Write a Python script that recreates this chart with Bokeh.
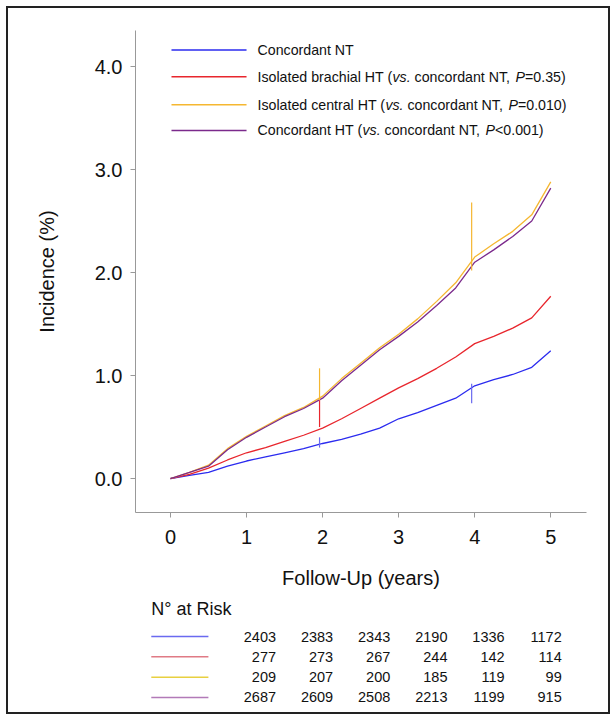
from bokeh.plotting import figure
from bokeh.layouts import column
from bokeh.models import Range1d, FixedTicker, CustomJSTickFormatter, Label
from bokeh.core.properties import value
from bokeh.embed import file_html
from bokeh.resources import INLINE

FONT = "Liberation Sans"

# данные
times = [i * 0.25 for i in range(21)]
inc_nt = [0, 0.03, 0.06, 0.12, 0.17, 0.21, 0.25, 0.29, 0.34, 0.38, 0.43, 0.49, 0.58, 0.64, 0.71, 0.78, 0.9, 0.96, 1.01, 1.08, 1.24]
inc_brach = [0, 0.04, 0.1, 0.18, 0.25, 0.3, 0.36, 0.42, 0.49, 0.58, 0.68, 0.78, 0.88, 0.97, 1.07, 1.18, 1.31, 1.38, 1.46, 1.56, 1.77]
inc_central = [0, 0.06, 0.13, 0.29, 0.41, 0.51, 0.61, 0.69, 0.8, 0.97, 1.12, 1.27, 1.4, 1.55, 1.72, 1.9, 2.15, 2.28, 2.4, 2.56, 2.88]
inc_conc = [0, 0.06, 0.12, 0.28, 0.4, 0.5, 0.6, 0.68, 0.78, 0.95, 1.1, 1.25, 1.38, 1.52, 1.68, 1.85, 2.1, 2.22, 2.35, 2.5, 2.82]

# вертикальные выбросы на кривых (x, от, до)
spike_x = [1.96, 1.96, 1.96, 3.96, 3.96, 3.96]
spike_y0 = [0.76, 0.76, 0.3, 2.02, 1.3, 0.73]
spike_y1 = [1.07, 0.5, 0.4, 2.68, 1.3, 0.92]
spike_col = ["orange", "red", "blue", "orange", "red", "blue"]

colors = ["#2b2bef", "#e8262d", "#f5b731", "#7b2a8c"]
table_colors = ["#6a6af0", "#e07a85", "#e8d040", "#b27ab8"]
spike_map = {"orange": "#f5b731", "red": "#e8262d", "blue": "#6a6af0"}

legend_parts = [
    [("Concordant NT", "normal")],
    [("Isolated brachial HT (", "normal"), ("vs.", "italic"), (" concordant NT, ", "normal"), ("P", "italic"), ("=0.35)", "normal")],
    [("Isolated central HT (", "normal"), ("vs.", "italic"), (" concordant NT, ", "normal"), ("P", "italic"), ("=0.010)", "normal")],
    [("Concordant HT (", "normal"), ("vs.", "italic"), (" concordant NT, ", "normal"), ("P", "italic"), ("<0.001)", "normal")],
]

risk_years = [0, 1, 2, 3, 4, 5]
at_risk = [
    [2403, 2383, 2343, 2190, 1336, 1172],
    [277, 273, 267, 244, 142, 114],
    [209, 207, 200, 185, 119, 99],
    [2687, 2609, 2508, 2213, 1199, 915],
]

# ширины символов Arial (на 1000 em)
W = {" ": 278, "I": 278, "s": 500, "o": 556, "l": 222, "a": 556, "t": 278, "e": 556, "d": 556,
     "b": 556, "r": 333, "c": 500, "h": 556, "i": 222, "H": 722, "T": 611, "(": 333, ")": 333,
     "v": 500, ".": 278, "n": 556, "N": 722, ",": 278, "P": 667, "=": 584, "<": 584, "C": 722}


def text_w(s, size):
    return sum(W.get(ch, 556) for ch in s) / 1000 * size


PX = 76.0   # пикселей на год
ZERO = 162  # x нуля на холсте
LEG = 14.2

p = figure(width=600, height=587, output_backend="svg", toolbar_location=None, tools="",
           x_range=Range1d(-0.46, 5.47), y_range=Range1d(-0.33, 4.35),
           min_border_left=127, min_border_right=22, min_border_top=22, min_border_bottom=83)
p.outline_line_color = None
p.grid.grid_line_color = None

for ys, c in zip([inc_nt, inc_brach, inc_central, inc_conc], colors):
    p.line(times, ys, line_color=c, line_width=1.3)
p.segment(x0=spike_x, y0=spike_y0, x1=spike_x, y1=spike_y1,
          line_color=[spike_map[c] for c in spike_col], line_width=1.2)

p.xaxis.ticker = FixedTicker(ticks=[0, 1, 2, 3, 4, 5])
p.yaxis.ticker = FixedTicker(ticks=[0, 1, 2, 3, 4])
p.yaxis.formatter = CustomJSTickFormatter(code="return tick.toFixed(1);")
p.xaxis.axis_label = "Follow-Up (years)"
p.yaxis.axis_label = "Incidence (%)"
for ax in [p.xaxis[0], p.yaxis[0]]:
    ax.axis_line_color = "#999999"
    ax.major_tick_line_color = "#999999"
    ax.major_tick_out = 5
    ax.major_tick_in = 0
    ax.minor_tick_line_color = None
    ax.major_label_text_font = FONT
    ax.major_label_text_font_size = "20px"
    ax.major_label_text_color = "#111111"
    ax.axis_label_text_font = FONT
    ax.axis_label_text_font_size = "20px"
    ax.axis_label_text_font_style = "normal"
    ax.axis_label_text_color = "#111111"
p.xaxis.major_label_standoff = 12
p.xaxis.axis_label_standoff = 20
p.yaxis.major_label_standoff = 8
p.yaxis.axis_label_standoff = 34

# легенда вручную (курсив для vs. и P)
leg_y = [4.16, 3.9, 3.63, 3.38]
for i, parts in enumerate(legend_parts):
    p.segment(x0=[(172 - 171) / PX], y0=[leg_y[i]], x1=[(247 - 171) / PX], y1=[leg_y[i]],
              line_color=colors[i], line_width=1.5)
    off = 0
    for txt, style in parts:
        lead = text_w(txt[:len(txt) - len(txt.lstrip())], LEG)
        p.add_layout(Label(x=(258 - 171) / PX, y=leg_y[i], text=txt.strip(), x_offset=off + lead,
                           text_font=FONT, text_font_size=f"{LEG}px", text_font_style=style,
                           text_baseline="middle", text_color="#111111"))
        off += text_w(txt, LEG)

# таблица числа под риском
t = figure(width=600, height=117, output_backend="svg", toolbar_location=None, tools="",
           x_range=Range1d(-ZERO / PX, (600 - ZERO) / PX), y_range=Range1d(3.74, -2.02),
           x_axis_location=None, y_axis_location=None, min_border=0)
t.grid.grid_line_color = None
t.outline_line_color = None
t.text(x=[(30 - 171) / PX], y=[-1.38], text=["N° at Risk"], text_font=value(FONT),
       text_font_size="18px", text_baseline="middle", text_color="#111111")
for i, row in enumerate(at_risk):
    t.segment(x0=[(30 - 171) / PX], y0=[i], x1=[(106 - 171) / PX], y1=[i],
              line_color=table_colors[i], line_width=1.5)
    t.text(x=[yr + 25 / PX for yr in risk_years], y=[i] * len(row), text=[str(v) for v in row],
           text_font=value(FONT), text_font_size="14.5px", text_align="right",
           text_baseline="middle", text_color="#111111")

layout = column(p, t, spacing=0, styles={"border": "2px solid #222222", "margin": "6px"})

open("out.html", "w").write(file_html(layout, INLINE))
